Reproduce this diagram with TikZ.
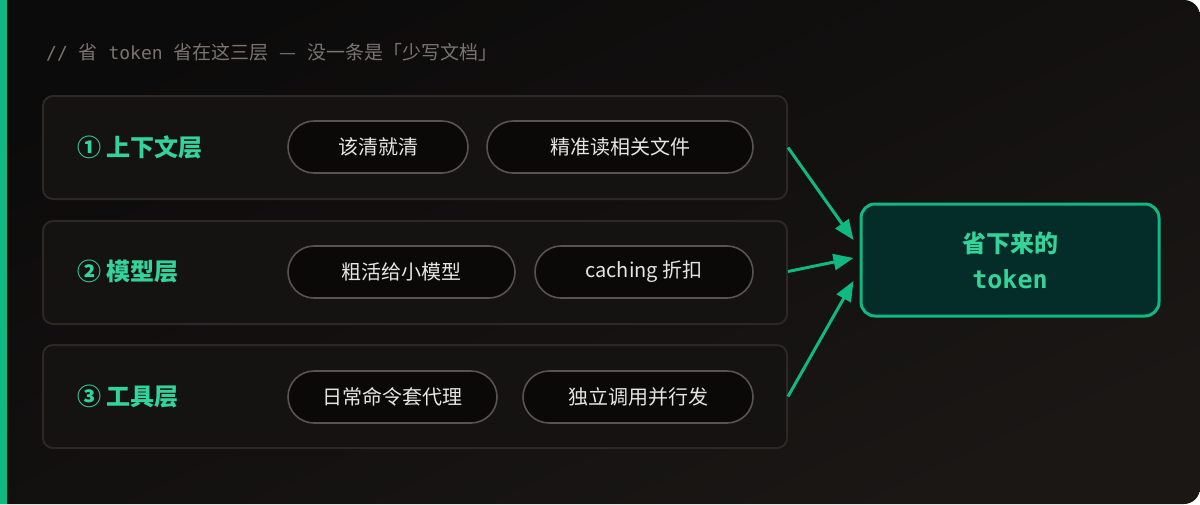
\documentclass[tikz,border=0pt]{standalone}
\usepackage{fontspec}
\setmainfont{Noto Sans CJK SC}
\newfontfamily\cjk{Noto Sans CJK SC}
\newfontfamily\monof{DejaVu Sans Mono}
\usetikzlibrary{arrows.meta}
\definecolor{bgtop}{HTML}{0C0B0B}
\definecolor{bgbot}{HTML}{1A1715}
\definecolor{accent}{HTML}{10B981}
\definecolor{lblgreen}{HTML}{34D399}
\definecolor{rowfill}{HTML}{151312}
\definecolor{rowline}{HTML}{2B2826}
\definecolor{pillfill}{HTML}{0A0908}
\definecolor{pillline}{HTML}{57534E}
\definecolor{pilltext}{HTML}{E7E5E4}
\definecolor{titlegray}{HTML}{7A7470}
\definecolor{tgtfill}{HTML}{042C28}
\tikzset{
  rowbox/.style={draw=rowline, line width=2pt, fill=rowfill, rounded corners=10pt, minimum width=744pt, minimum height=103pt, inner sep=0pt},
  pill/.style={draw=pillline, line width=1.6pt, fill=pillfill, rounded corners=26pt, minimum height=52pt, inner sep=0pt, text=pilltext, font=\fontsize{20}{24}\selectfont},
  layerlbl/.style={anchor=west, text=lblgreen, font=\fontsize{24}{28}\selectfont\bfseries, inner sep=0pt},
  tgtbox/.style={draw=accent, line width=3pt, fill=tgtfill, rounded corners=14pt, minimum width=298pt, minimum height=112pt, inner sep=0pt},
  tgttxt/.style={text=lblgreen, inner sep=0pt},
  arr/.style={draw=accent, line width=3pt, -{Triangle[length=20pt,width=16pt]}},
  titletxt/.style={anchor=west, text=titlegray, inner sep=0pt, font=\fontsize{18}{22}\selectfont\monof}
}
\begin{document}
\begin{tikzpicture}[x=1pt,y=-1pt]
\useasboundingbox (0,0) rectangle (1200,504);
% background card
\shade[top color=bgtop, bottom color=bgbot, shading angle=25]
  (0,0) [rounded corners=16pt] -- (1200,0) -- (1200,504) [sharp corners] -- (0,504) -- cycle;
\fill[accent] (0,0) rectangle (6.5,504);
% title
\node[titletxt] (title) at (46,52) {//\ {\cjk\fontsize{19}{22}\selectfont 省} token {\cjk\fontsize{19}{22}\selectfont 省在这三层} {\cjk\fontsize{19}{22}\selectfont —} {\cjk\fontsize{19}{22}\selectfont 没一条是「少写文档」}};
% rows
\node[rowbox] (r1) at (415,147.5) {};
\node[rowbox] (r2) at (415,272.5) {};
\node[rowbox] (r3) at (415,396.5) {};
\node[layerlbl] (l1) at (77,147) {① 上下文层};
\node[layerlbl] (l2) at (77,272) {② 模型层};
\node[layerlbl] (l3) at (77,397) {③ 工具层};
% pills
\node[pill, minimum width=180pt] (p11) at (378,147) {该清就清};
\node[pill, minimum width=266pt] (p12) at (620,147) {精准读相关文件};
\node[pill, minimum width=227pt] (p21) at (401.5,272) {粗活给小模型};
\node[pill, minimum width=218pt] (p22) at (644,272) {caching 折扣};
\node[pill, minimum width=209pt] (p31) at (392.5,397) {日常命令套代理};
\node[pill, minimum width=230pt] (p32) at (638,397) {独立调用并行发};
% target
\node[tgtbox] (tgt) at (1010,260) {};
\node[tgttxt, font=\fontsize{24}{28}\selectfont\bfseries] (t1) at (1010,243) {省下来的};
\node[tgttxt, font=\fontsize{25}{28}\selectfont\monof\bfseries] (t2) at (1010,279) {token};
% arrows
\draw[arr] (r1.east) -- ([shift={(-6,-20)}]tgt.west);
\draw[arr] ([yshift=1pt]r2.east) -- ([shift={(-6,-2)}]tgt.west);
\draw[arr] (r3.east) -- ([shift={(-6,21)}]tgt.west);
\end{tikzpicture}
\end{document}
